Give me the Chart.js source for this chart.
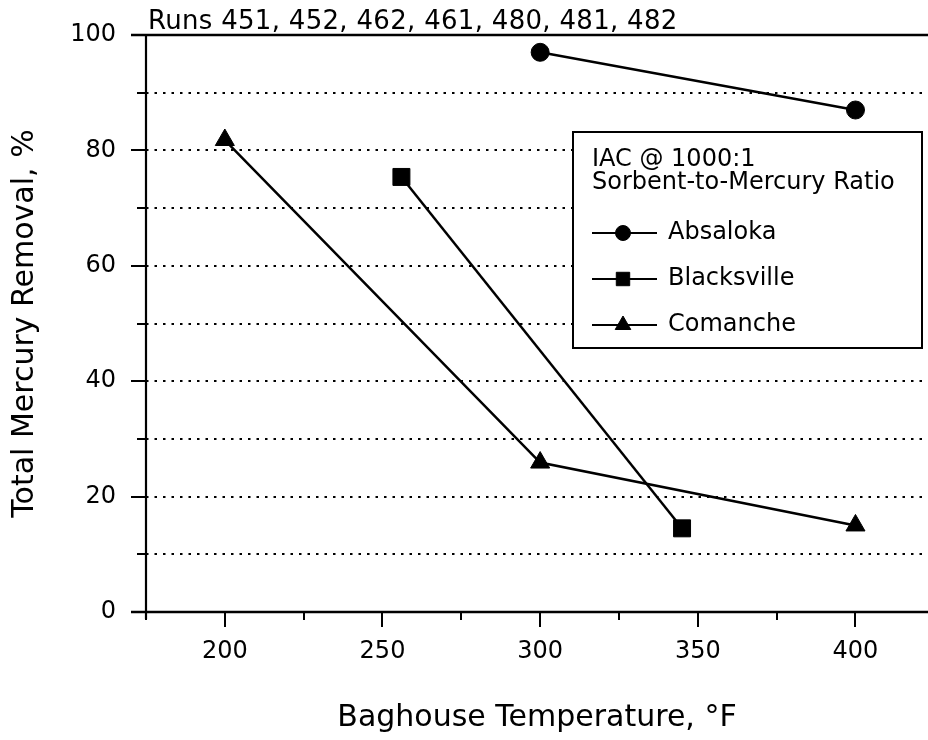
<!DOCTYPE html>
<html>
<head>
<meta charset="utf-8">
<title>Total Mercury Removal vs Baghouse Temperature</title>
<script src="https://cdn.jsdelivr.net/npm/chart.js@4.4.1/dist/chart.umd.min.js"></script>
<style>
  html, body { margin: 0; padding: 0; background: #fff; overflow: hidden; }
  #wrap { width: 928px; height: 740px; }
</style>
</head>
<body>
<div id="wrap"><canvas id="mercuryChart" width="928" height="740"></canvas></div>
<script>
// values
const runsNote = 'Runs 451, 452, 462, 461, 480, 481, 482';
const legendTitle = ['IAC @ 1000:1', 'Sorbent-to-Mercury Ratio'];
const seriesNames = ['Absaloka', 'Blacksville', 'Comanche'];

const absalokaTemp = [300, 400];
const absalokaRemoval = [97.0, 87.0];
const blacksvilleTemp = [256, 345];
const blacksvilleRemoval = [75.4, 14.5];
const comancheTemp = [200, 300, 400];
const comancheRemoval = [81.8, 25.9, 15.0];

const xTickLabels = [200, 250, 300, 350, 400];
const yTickLabels = [0, 20, 40, 60, 80, 100];

const FONT = "'DejaVu Sans', Verdana, sans-serif";
const toPoints = (xs, ys) => xs.map((v, i) => ({ x: v, y: ys[i] }));

const frame = {
  id: 'frame',
  beforeDatasetsDraw(chart) {
    const { ctx, chartArea: a, scales: { x, y } } = chart;
    ctx.save();
    ctx.strokeStyle = '#000';
    ctx.lineWidth = 2.2;
    ctx.setLineDash([2.5, 6]);
    y.ticks.forEach((t) => {
      if (t.value <= y.min || t.value >= y.max) return;
      const py = Math.round(y.getPixelForValue(t.value));
      ctx.beginPath(); ctx.moveTo(a.left, py); ctx.lineTo(a.right, py); ctx.stroke();
    });
    ctx.setLineDash([]);

    ctx.lineWidth = 2;
    y.ticks.forEach((t) => {
      const py = Math.round(y.getPixelForValue(t.value));
      const len = yTickLabels.includes(t.value) ? 15 : 9;
      ctx.beginPath(); ctx.moveTo(a.left - len, py); ctx.lineTo(a.left, py); ctx.stroke();
    });
    x.ticks.forEach((t) => {
      const px = Math.round(x.getPixelForValue(t.value));
      const len = xTickLabels.includes(t.value) ? 15 : 8;
      ctx.beginPath(); ctx.moveTo(px, a.bottom); ctx.lineTo(px, a.bottom + len); ctx.stroke();
    });

    // frame lines: top, bottom, left
    ctx.lineWidth = 2.5;
    const top = Math.round(y.getPixelForValue(y.max));
    const bottom = Math.round(y.getPixelForValue(y.min));
    ctx.beginPath(); ctx.moveTo(a.left - 15, top); ctx.lineTo(a.right, top); ctx.stroke();
    ctx.beginPath(); ctx.moveTo(a.left - 15, bottom); ctx.lineTo(a.right, bottom); ctx.stroke();
    ctx.lineWidth = 2.2;
    ctx.beginPath(); ctx.moveTo(a.left, top); ctx.lineTo(a.left, bottom + 7); ctx.stroke();

    ctx.fillStyle = '#000';
    ctx.font = '26px ' + FONT;
    ctx.letterSpacing = '0.3px';
    ctx.textAlign = 'left';
    ctx.textBaseline = 'alphabetic';
    ctx.fillText(runsNote, a.left + 2, top - 6);
    ctx.restore();
  }
};

const drawMarker = (ctx, style, radius, cx, cy) => {
  if (window.Chart && Chart.helpers && Chart.helpers.drawPoint) {
    Chart.helpers.drawPoint(ctx, { pointStyle: style, radius, rotation: 0, borderWidth: 1 }, cx, cy);
    return;
  }
  ctx.beginPath();
  ctx.arc(cx, cy, radius, 0, Math.PI * 2);
  ctx.fill();
};

const legendBox = {
  id: 'legendBox',
  afterDraw(chart) {
    const { ctx, chartArea: a } = chart;
    const right = a.right - 6, left = right - 349, top = 132, height = 216;
    ctx.save();
    ctx.fillStyle = '#fff';
    ctx.fillRect(left, top, right - left, height);
    ctx.strokeStyle = '#000';
    ctx.lineWidth = 2;
    ctx.strokeRect(left, top, right - left, height);

    ctx.fillStyle = '#000';
    ctx.font = '24px ' + FONT;
    ctx.textAlign = 'left';
    ctx.textBaseline = 'alphabetic';
    ctx.fillText(legendTitle[0], left + 19, top + 34);
    ctx.fillText(legendTitle[1], left + 19, top + 57);

    const sizes = [7.5, 9.5, 9];
    chart.data.datasets.forEach((ds, i) => {
      const cy = top + 101 + i * 46;
      ctx.lineWidth = 2;
      ctx.beginPath(); ctx.moveTo(left + 19, cy); ctx.lineTo(left + 84, cy); ctx.stroke();
      ctx.lineWidth = 1;
      drawMarker(ctx, ds.pointStyle, sizes[i], left + 50, cy);
      ctx.textBaseline = 'middle';
      ctx.fillText(ds.label, left + 95, cy);
    });
    ctx.restore();
  }
};

const lineSeries = (label, xs, ys, style, radius) => ({
  label,
  data: toPoints(xs, ys),
  borderColor: '#000',
  backgroundColor: '#000',
  borderWidth: 2.5,
  pointStyle: style,
  pointRadius: radius,
  pointBorderWidth: 1,
  pointBackgroundColor: '#000',
  pointBorderColor: '#000',
  tension: 0,
  clip: false
});

new Chart(document.getElementById('mercuryChart'), {
  type: 'line',
  data: {
    datasets: [
      lineSeries(seriesNames[0], absalokaTemp, absalokaRemoval, 'circle', 9),
      lineSeries(seriesNames[1], blacksvilleTemp, blacksvilleRemoval, 'rect', 12),
      lineSeries(seriesNames[2], comancheTemp, comancheRemoval, 'triangle', 11)
    ]
  },
  options: {
    responsive: false,
    animation: false,
    events: [],
    layout: { autoPadding: false, padding: { top: 35, right: 0, bottom: 0, left: 0 } },
    plugins: { legend: { display: false }, tooltip: { enabled: false }, title: { display: false } },
    scales: {
      x: {
        type: 'linear',
        min: 175,
        max: 423,
        // tick marks are drawn by the frame plugin; tickLength only spaces the labels
        grid: { display: false, drawTicks: true, tickLength: 25 },
        border: { display: false },
        ticks: {
          stepSize: 25,
          includeBounds: false,
          padding: 0,
          color: '#000',
          font: { family: FONT, size: 24 },
          callback: (v) => (xTickLabels.includes(v) ? String(v) : '')
        },
        title: {
          display: true,
          text: 'Baghouse Temperature, °F',
          color: '#000',
          font: { family: FONT, size: 30 },
          padding: { top: 0, bottom: 4 }
        },
        afterFit: (s) => { s.height = 128; }
      },
      y: {
        min: 0,
        max: 100,
        grid: { display: false, drawTicks: true, tickLength: 30 },
        border: { display: false },
        ticks: {
          stepSize: 10,
          padding: 0,
          color: '#000',
          font: { family: FONT, size: 24 },
          callback: (v) => (yTickLabels.includes(v) ? String(v) : '')
        },
        title: {
          display: true,
          text: 'Total Mercury Removal, %',
          color: '#000',
          font: { family: FONT, size: 30 },
          padding: { top: 7, bottom: 0 }
        },
        afterFit: (s) => { s.width = 146; }
      }
    }
  },
  plugins: [frame, legendBox]
});
</script>
</body>
</html>
